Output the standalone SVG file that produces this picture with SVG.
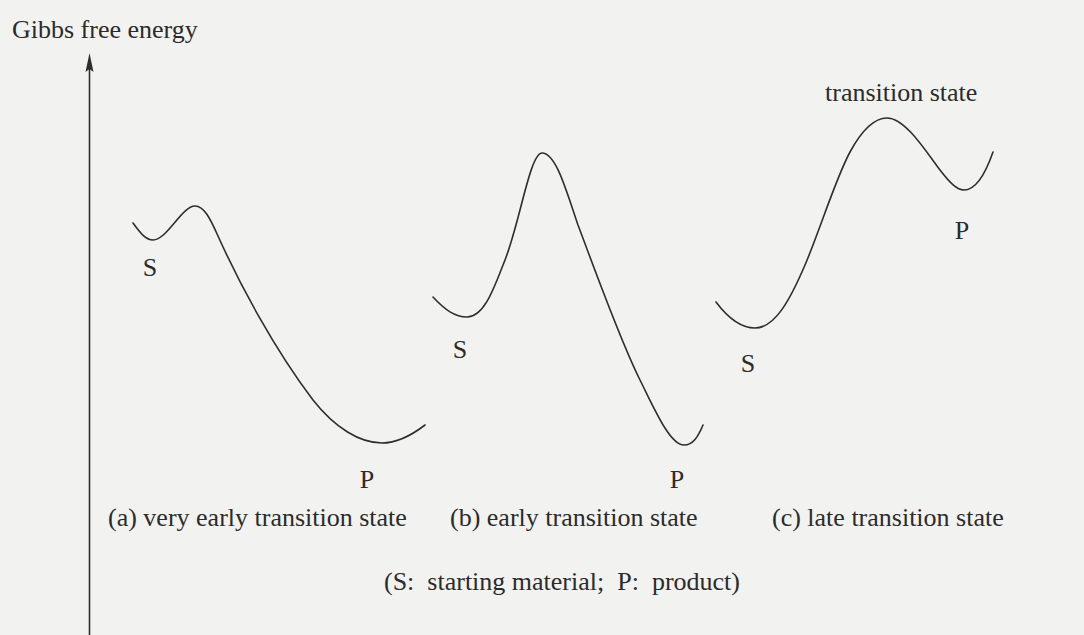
<svg xmlns="http://www.w3.org/2000/svg" width="1084" height="635" viewBox="0 0 1084 635">
<style>
.t{font-family:"Liberation Serif","Times New Roman",serif;font-size:26px;fill:#2b2b2b}
.c{fill:none;stroke:#2e2e2e;stroke-width:1.6;stroke-linecap:round}
</style>
<rect width="1084" height="635" fill="#f2f2f1"/>
<g id="axis">
<line x1="89.5" y1="66" x2="89.5" y2="635" stroke="#2e2e2e" stroke-width="1.6"/>
<polygon points="89.5,53 85.5,72 89.5,69 93.5,72" fill="#2e2e2e"/>
<text class="t" x="12" y="38">Gibbs free energy</text>
</g>
<g id="curve-a">
<path class="c" d="M133,223 C141,234 146,240 153,240 C167,240 182,206 195,206 C204,206 210,218 218,236 C240,285 275,350 313,400 C335,428 360,443 382,443 C398,443 412,435 425,425"/>
<text class="t" x="150" y="276" text-anchor="middle">S</text>
<text class="t" x="367" y="488" text-anchor="middle">P</text>
<text class="t" x="108" y="526">(a) very early transition state</text>
</g>
<g id="curve-b">
<path class="c" d="M433,297 C445,310 455,317 467,317 C485,317 495,285 505,260 C520,222 530,153 542,153 C556,153 566,190 578,225 C595,270 620,340 640,380 C655,410 670,445 684,445 C693,445 698,437 703,425"/>
<text class="t" x="460" y="358" text-anchor="middle">S</text>
<text class="t" x="677" y="488" text-anchor="middle">P</text>
<text class="t" x="450" y="526">(b) early transition state</text>
</g>
<g id="curve-c">
<path class="c" d="M716,302 C728,318 740,328 755,328 C775,328 790,300 805,265 C820,230 835,180 850,152 C862,130 875,118 887,118 C905,118 925,150 940,170 C950,183 957,190 964,190 C975,190 985,175 993,152"/>
<text class="t" x="825" y="101">transition state</text>
<text class="t" x="748" y="372" text-anchor="middle">S</text>
<text class="t" x="962" y="239" text-anchor="middle">P</text>
<text class="t" x="772" y="526">(c) late transition state</text>
</g>
<g id="legend">
<text class="t" x="562" y="590" text-anchor="middle" xml:space="preserve">(S:  starting material;  P:  product)</text>
</g>
</svg>
